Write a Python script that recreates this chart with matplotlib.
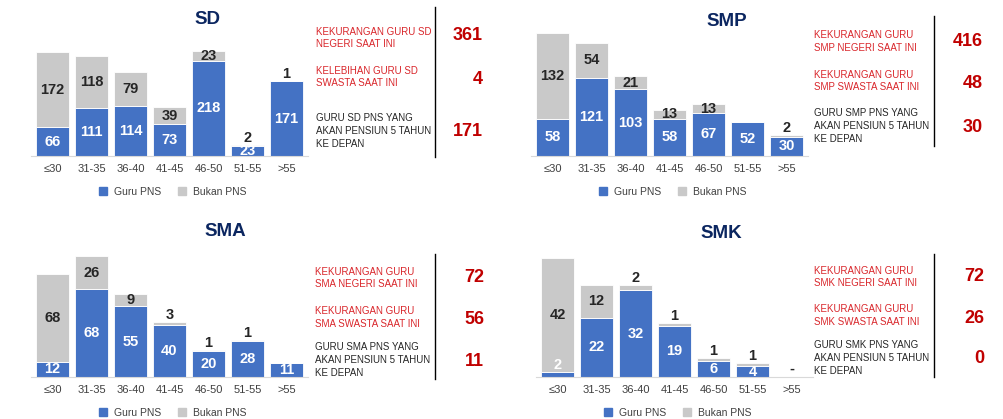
import numpy as np
import matplotlib
matplotlib.use("Agg")
import matplotlib.pyplot as plt
from matplotlib.lines import Line2D

plt.rcParams['font.family'] = ['Liberation Sans', 'DejaVu Sans']

# Age groups shared by all four school levels
age_groups = ['≤30', '31-35', '36-40', '41-45', '46-50', '51-55', '>55']

sd_pns = [66, 111, 114, 73, 218, 23, 171]
sd_bukan = [172, 118, 79, 39, 23, 2, 1]
smp_pns = [58, 121, 103, 58, 67, 52, 30]
smp_bukan = [132, 54, 21, 13, 13, 0, 2]
sma_pns = [12, 68, 55, 40, 20, 28, 11]
sma_bukan = [68, 26, 9, 3, 1, 1, 0]
smk_pns = [2, 22, 32, 19, 6, 4, 0]
smk_bukan = [42, 12, 2, 1, 1, 1, 0]

sd_notes = ['KEKURANGAN GURU SD\nNEGERI SAAT INI',
            'KELEBIHAN GURU SD\nSWASTA SAAT INI',
            'GURU SD PNS YANG\nAKAN PENSIUN 5 TAHUN\nKE DEPAN']
sd_values = [361, 4, 171]
smp_notes = ['KEKURANGAN GURU\nSMP NEGERI SAAT INI',
             'KEKURANGAN GURU\nSMP SWASTA SAAT INI',
             'GURU SMP PNS YANG\nAKAN PENSIUN 5 TAHUN\nKE DEPAN']
smp_values = [416, 48, 30]
sma_notes = ['KEKURANGAN GURU\nSMA NEGERI SAAT INI',
             'KEKURANGAN GURU\nSMA SWASTA SAAT INI',
             'GURU SMA PNS YANG\nAKAN PENSIUN 5 TAHUN\nKE DEPAN']
sma_values = [72, 56, 11]
smk_notes = ['KEKURANGAN GURU\nSMK NEGERI SAAT INI',
             'KEKURANGAN GURU\nSMK SWASTA SAAT INI',
             'GURU SMK PNS YANG\nAKAN PENSIUN 5 TAHUN\nKE DEPAN']
smk_values = [72, 26, 0]

BLUE = '#4472C4'
GREY = '#C9C9C9'
NAVY = '#0B2660'
RED_TXT = '#D9262B'
RED_NUM = '#C00000'
DARK = '#262626'

W, H = 1004, 419
fig = plt.figure(figsize=(W / 100, H / 100), dpi=100)


def fx(x):
    return x / W


def fy(y):
    return 1 - y / H


def draw_panel(pns, bukan, title, title_xy, left, base, ymax,
               notes, values, text_x, note_ys, num_x, num_ys, vline):
    ax_h = 126
    ax = fig.add_axes([fx(left), fy(base), fx(7.1 * 39), ax_h / H])
    x = np.arange(len(age_groups))
    pns = np.array(pns)
    bukan = np.array(bukan)
    ax.bar(x, pns, width=0.85, color=BLUE, edgecolor='white', linewidth=0.6)
    ax.bar(x, bukan, bottom=pns, width=0.85, color=GREY, edgecolor='white', linewidth=0.6)
    ax.set_xlim(-0.55, 6.55)
    ax.set_ylim(0, ymax)
    # small segments get their label just above instead of inside
    small = 0.05 * ymax
    for i in x:
        p, b = pns[i], bukan[i]
        if p + b == 0:
            ax.text(i, ymax * 0.01, '-', ha='center', va='bottom',
                    fontsize=10.5, fontweight='bold', color=DARK)
            continue
        if p > 0:
            if p > small:
                ax.text(i, p / 2, str(p), ha='center', va='center',
                        fontsize=10.5, fontweight='bold', color='white')
            else:
                ax.text(i, p, str(p), ha='center', va='bottom',
                        fontsize=10.5, fontweight='bold', color='white')
        if b > 0:
            if b > small:
                ax.text(i, p + b / 2, str(b), ha='center', va='center',
                        fontsize=10.5, fontweight='bold', color=DARK)
            else:
                ax.text(i, p + b, str(b), ha='center', va='bottom',
                        fontsize=10.5, fontweight='bold', color=DARK)
    for s in ['top', 'right', 'left']:
        ax.spines[s].set_visible(False)
    ax.spines['bottom'].set_color('#D9D9D9')
    ax.set_yticks([])
    ax.set_xticks(x)
    ax.set_xticklabels(age_groups, fontsize=8, color='#404040')
    ax.tick_params(axis='x', length=0, pad=5.5)
    ax.set_facecolor('none')
    handles = [Line2D([], [], marker='s', linestyle='none', markersize=6,
                      color=BLUE, label='Guru PNS'),
               Line2D([], [], marker='s', linestyle='none', markersize=6,
                      color=GREY, label='Bukan PNS')]
    ax.legend(handles=handles, loc='center', bbox_to_anchor=(0.5, -36 / ax_h),
              ncol=2, frameon=False, fontsize=7.5, handletextpad=0.05,
              columnspacing=1.0, labelcolor='#404040')

    fig.text(fx(title_xy[0]), fy(title_xy[1]), title, ha='center', va='center',
             fontsize=13.5, fontweight='bold', color=NAVY)

    for k, (note, ny) in enumerate(zip(notes, note_ys)):
        col = DARK if k == 2 else RED_TXT
        fig.text(fx(text_x), fy(ny), note, ha='left', va='center',
                 fontsize=7, color=col, linespacing=1.35)
    for v, ny in zip(values, num_ys):
        fig.text(fx(num_x), fy(ny), str(v), ha='right', va='center',
                 fontsize=13, fontweight='bold', color=RED_NUM)
    fig.add_artist(Line2D([fx(vline[0]), fx(vline[0])], [fy(vline[1]), fy(vline[2])],
                          color='black', linewidth=1.0))


draw_panel(sd_pns, sd_bukan, 'SD', (207, 19), 31, 156, 289,
           sd_notes, sd_values, 316, [38, 77, 131], 483, [36, 79, 132], (435, 7, 157))
draw_panel(smp_pns, smp_bukan, 'SMP', (727, 21), 531, 156, 195,
           smp_notes, smp_values, 814, [41.5, 81, 126], 983, [41, 83, 127], (934, 16, 146))
draw_panel(sma_pns, sma_bukan, 'SMA', (225, 231), 31, 377, 97.7,
           sma_notes, sma_values, 315, [278, 317.5, 360], 484, [277, 319, 361], (435, 254, 379))
draw_panel(smk_pns, smk_bukan, 'SMK', (721, 233), 536, 377, 46.6,
           smk_notes, smk_values, 814, [277, 315.5, 358], 984, [276, 318, 358], (934, 254, 377))

fig.savefig('out.png', dpi=100, facecolor='white')
